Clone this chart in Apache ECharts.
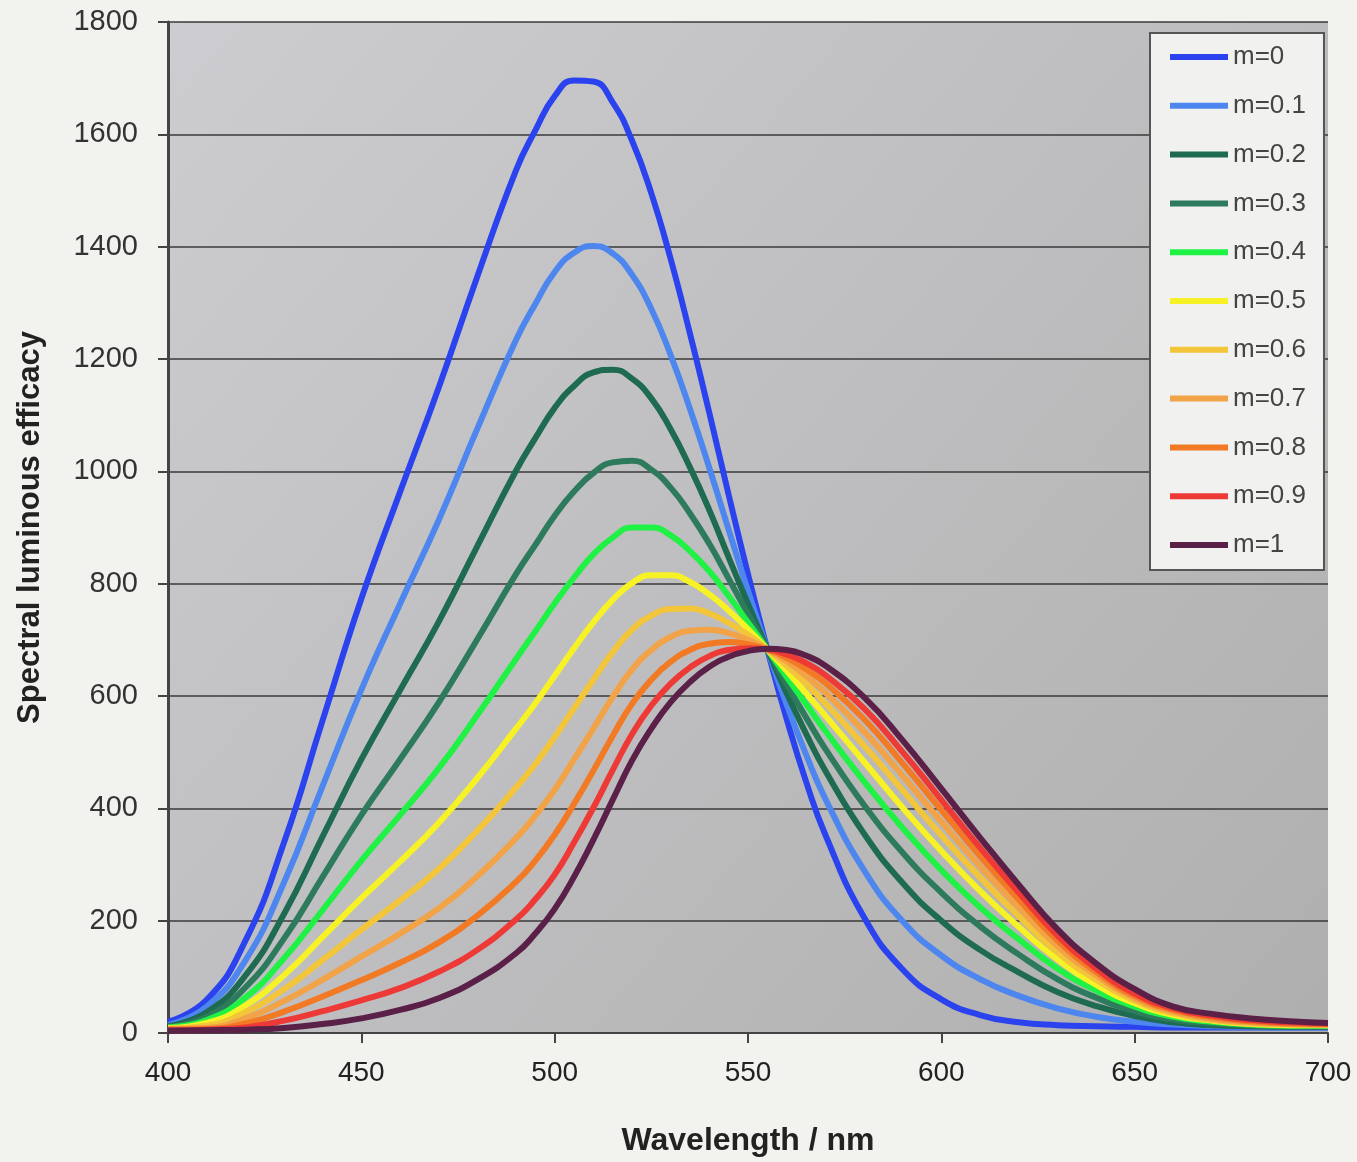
<!DOCTYPE html>
<html>
<head>
<meta charset="utf-8">
<script src="https://cdn.jsdelivr.net/npm/echarts@6/dist/echarts.min.js"></script>
<style>
  html, body { margin: 0; padding: 0; background: #f2f2ef; }
  #chart { width: 1357px; height: 1162px; }
</style>
</head>
<body>
<div id="chart"></div>
<script>
// wavelengths, nm (finer steps around the peaks)
const wavelengths = [400, 410, 420, 430, 440, 450, 460, 470, 480, 490,
  495, 500, 505, 510, 515, 520, 525, 530, 535, 540, 545, 550, 555, 560, 565, 570,
  580, 590, 600, 610, 620, 630, 640, 650, 660, 670, 680, 690, 700]

const seriesNames = ['m=0', 'm=0.1', 'm=0.2', 'm=0.3', 'm=0.4', 'm=0.5', 'm=0.6', 'm=0.7', 'm=0.8', 'm=0.9', 'm=1']

const seriesColors = ['#2b43ee', '#4d86ee', '#1e6b52', '#2d7a5c', '#1ff245', '#f6f226',
  '#f2c53a', '#f2a347', '#f27a24', '#ee3a36', '#5b2048']

// values, one array per curve
const m00 = [20, 59, 164, 339, 557, 773, 963, 1149, 1347, 1536,
  1607, 1668, 1696, 1694, 1657, 1589, 1495, 1378, 1245, 1104, 958, 817, 683, 559, 448, 353,
  206, 113, 60, 32, 19, 14, 12, 11, 10, 10, 10, 10, 10]
const m01 = [14, 47, 129, 268, 440, 611, 764, 913, 1076, 1234,
  1298, 1355, 1389, 1401, 1388, 1350, 1289, 1207, 1111, 1006, 896, 787, 683, 585, 496, 417,
  290, 199, 138, 96, 66, 44, 29, 20, 15, 12, 11, 10, 10]
const m02 = [12, 37, 102, 212, 350, 487, 610, 732, 867, 1001,
  1059, 1113, 1152, 1176, 1181, 1165, 1130, 1075, 1007, 931, 847, 764, 683, 605, 533, 467,
  355, 267, 200, 148, 108, 73, 48, 30, 19, 14, 12, 11, 11]
const m03 = [11, 29, 81, 168, 278, 388, 487, 588, 701, 817,
  869, 921, 964, 997, 1016, 1019, 1003, 971, 925, 871, 809, 746, 683, 621, 562, 506,
  406, 321, 250, 190, 140, 96, 63, 39, 24, 17, 14, 12, 12]
const m04 = [10, 23, 63, 133, 219, 307, 388, 471, 566, 666,
  715, 765, 811, 852, 882, 900, 900, 886, 858, 822, 778, 731, 683, 634, 586, 538,
  448, 365, 290, 224, 167, 115, 76, 47, 29, 20, 15, 13, 13]
const m05 = [9, 18, 49, 103, 171, 240, 305, 374, 454, 542,
  587, 636, 685, 731, 771, 801, 815, 815, 803, 781, 752, 719, 683, 645, 605, 565,
  483, 401, 324, 253, 189, 131, 86, 53, 32, 22, 16, 14, 14]
const m06 = [8, 13, 37, 78, 130, 184, 236, 292, 360, 437,
  479, 527, 578, 629, 678, 718, 743, 755, 756, 747, 730, 709, 683, 654, 622, 587,
  512, 432, 352, 277, 208, 144, 95, 58, 35, 23, 17, 15, 14]
const m07 = [7, 9, 26, 57, 95, 136, 177, 222, 279, 347,
  387, 433, 487, 542, 598, 647, 682, 705, 716, 718, 712, 700, 683, 662, 636, 606,
  537, 458, 376, 297, 224, 155, 103, 62, 38, 25, 19, 16, 15]
const m08 = [6, 7, 17, 38, 65, 94, 125, 161, 209, 269,
  307, 353, 408, 467, 529, 586, 629, 661, 682, 693, 696, 692, 683, 668, 648, 623,
  559, 480, 397, 315, 238, 165, 109, 66, 41, 28, 21, 17, 16]
const m09 = [5, 6, 10, 22, 39, 58, 80, 109, 148, 202,
  238, 282, 339, 401, 468, 532, 583, 622, 651, 671, 682, 685, 683, 674, 659, 637,
  578, 500, 415, 330, 250, 174, 115, 70, 44, 31, 23, 19, 17]
const m10 = [4, 5, 6, 9, 16, 26, 41, 62, 95, 142,
  177, 221, 278, 344, 415, 485, 542, 589, 625, 652, 670, 680, 684, 682, 672, 654,
  598, 521, 435, 348, 264, 185, 124, 78, 47, 34, 26, 21, 18]

const curves = [m00, m01, m02, m03, m04, m05, m06, m07, m08, m09, m10]

const chart = echarts.init(document.getElementById('chart'))

const series = curves.map((vals, i) => ({
  name: seriesNames[i],
  type: 'line',
  data: wavelengths.map((w, j) => [w, vals[j]]),
  smooth: true,
  showSymbol: false,
  lineStyle: { color: seriesColors[i], width: 6 },
  itemStyle: { color: seriesColors[i] },
  z: 2 + i
}))

chart.setOption({
  backgroundColor: '#f2f2ef',
  animation: false,
  grid: {
    left: 168, right: 29, top: 22, bottom: 124,
    show: true,
    borderWidth: 0,
    backgroundColor: new echarts.graphic.LinearGradient(0, 0, 1, 1, [
      { offset: 0, color: '#cdcdd1' },
      { offset: 1, color: '#afafaf' }
    ])
  },
  legend: {
    orient: 'vertical',
    left: 1150, top: 33,
    padding: [10, 18, 11, 20],
    backgroundColor: '#f1f1f0',
    borderColor: '#555',
    borderWidth: 2,
    icon: 'rect',
    itemWidth: 58,
    itemHeight: 6,
    itemGap: 20.8,
    data: seriesNames,
    textStyle: { color: '#444', fontSize: 26, fontFamily: 'Liberation Sans', lineHeight: 28 }
  },
  xAxis: {
    type: 'value',
    min: 400, max: 700, interval: 50,
    name: 'Wavelength / nm',
    nameLocation: 'middle',
    nameGap: 92,
    nameTextStyle: { color: '#222', fontSize: 32, fontWeight: 'bold', fontFamily: 'Liberation Sans' },
    axisLine: { show: true, lineStyle: { color: '#444', width: 2 } },
    axisTick: { show: true, length: 10, lineStyle: { color: '#444', width: 2 } },
    axisLabel: { color: '#222', fontSize: 28, margin: 26, fontFamily: 'Liberation Sans' },
    splitLine: { show: false }
  },
  yAxis: {
    type: 'value',
    min: 0, max: 1800, interval: 200,
    name: 'Spectral luminous efficacy',
    nameLocation: 'middle',
    nameGap: 122,
    nameTextStyle: { color: '#222', fontSize: 31, fontWeight: 'bold', fontFamily: 'Liberation Sans' },
    axisLine: { show: true, lineStyle: { color: '#444', width: 3 } },
    axisTick: { show: true, length: 10, lineStyle: { color: '#444', width: 2 } },
    axisLabel: { color: '#333', fontSize: 29, margin: 30, fontFamily: 'Liberation Sans',
      formatter: v => String(v) },
    splitLine: { show: true, lineStyle: { color: '#3a3a3a', width: 1.5 } }
  },
  series: series
})
</script>
</body>
</html>
